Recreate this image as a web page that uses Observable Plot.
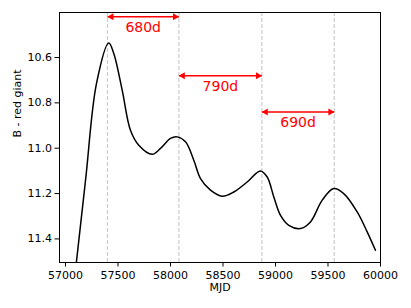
<!DOCTYPE html>
<html>
<head>
<meta charset="utf-8">
<script src="https://cdn.jsdelivr.net/npm/d3@7"></script>
<script src="https://cdn.jsdelivr.net/npm/@observablehq/plot@0.6"></script>
<style>
  html, body { margin: 0; padding: 0; background: #fff; }
</style>
</head>
<body>
<div id="chart"></div>
<script>
// Light curve (B - red giant) vs MJD
const mjd = [57090, 57192, 57295, 57412, 57460, 57540, 57619, 57698, 57826, 57905, 58000, 58064, 58143, 58222, 58286, 58381, 58492, 58603, 58730, 58855, 58921, 58984, 59048, 59127, 59238, 59333, 59445, 59555, 59650, 59778, 59873, 59952];
const mag = [11.56, 11.137, 10.715, 10.536, 10.582, 10.744, 10.921, 10.987, 11.027, 11.001, 10.957, 10.950, 10.972, 11.053, 11.134, 11.185, 11.212, 11.193, 11.149, 11.100, 11.127, 11.215, 11.296, 11.340, 11.354, 11.325, 11.229, 11.178, 11.200, 11.281, 11.369, 11.450];

// Peak epochs (dashed lines)
const peaks = [57400, 58080, 58870, 59560];

// Period arrows
const arrowStart = [57400, 58080, 58870];
const arrowEnd = [58080, 58870, 59560];
const arrowY = [10.42, 10.68, 10.84];
const arrowLabel = ["680d", "790d", "690d"];

// Ticks
const xTicks = [57000, 57500, 58000, 58500, 59000, 59500, 60000];
const yTicks = [10.6, 10.8, 11.0, 11.2, 11.4];

const curve = mjd.map((x, i) => ({x, y: mag[i]}));
const arrows = arrowStart.map((s, i) => ({x1: s, x2: arrowEnd[i], y: arrowY[i], label: arrowLabel[i]}));

const chart = Plot.plot({
  width: 411,
  height: 308,
  marginLeft: 59,
  marginRight: 31,
  marginTop: 12,
  marginBottom: 46,
  style: {fontFamily: "'DejaVu Sans', sans-serif", fontSize: "11px", color: "black", background: "white"},
  x: {domain: [56943, 60000]},
  y: {domain: [10.4015, 11.504], reverse: true},
  marks: [
    Plot.ruleX(peaks, {stroke: "#cccccc", strokeWidth: 1.2, strokeDasharray: "4,2"}),
    Plot.line(curve, {x: "x", y: "y", stroke: "black", strokeWidth: 1.5, curve: "catmull-rom", clip: true}),
    Plot.link(arrows, {x1: "x1", x2: "x2", y1: "y", y2: "y", stroke: "red", strokeWidth: 1.5}),
    Plot.dot(arrows, {x: "x1", y: "y", symbol: "triangle", r: 2.6, fill: "red", stroke: null, rotate: -90, dx: 3.9}),
    Plot.dot(arrows, {x: "x2", y: "y", symbol: "triangle", r: 2.6, fill: "red", stroke: null, rotate: 90, dx: -3.9}),
    Plot.text(arrows, {x: d => (d.x1 + d.x2) / 2, y: "y", text: "label", fill: "red", fontSize: 14, dy: 11}),
    Plot.frame({stroke: "black", strokeWidth: 1}),
    Plot.axisX({ticks: xTicks, tickFormat: d3.format("d"), tickSize: 4.5, tickPadding: 4, label: null, fontSize: 11}),
    Plot.axisY({ticks: yTicks, tickFormat: d3.format(".1f"), tickSize: 4.5, tickPadding: 3, label: null, fontSize: 11}),
    Plot.text(["MJD"], {frameAnchor: "bottom", text: d => d, dy: 28, fontSize: 11}),
    Plot.text(["B - red giant"], {frameAnchor: "left", text: d => d, rotate: -90, dx: -42, fontSize: 11})
  ]
});
document.getElementById("chart").appendChild(chart);
</script>
</body>
</html>
